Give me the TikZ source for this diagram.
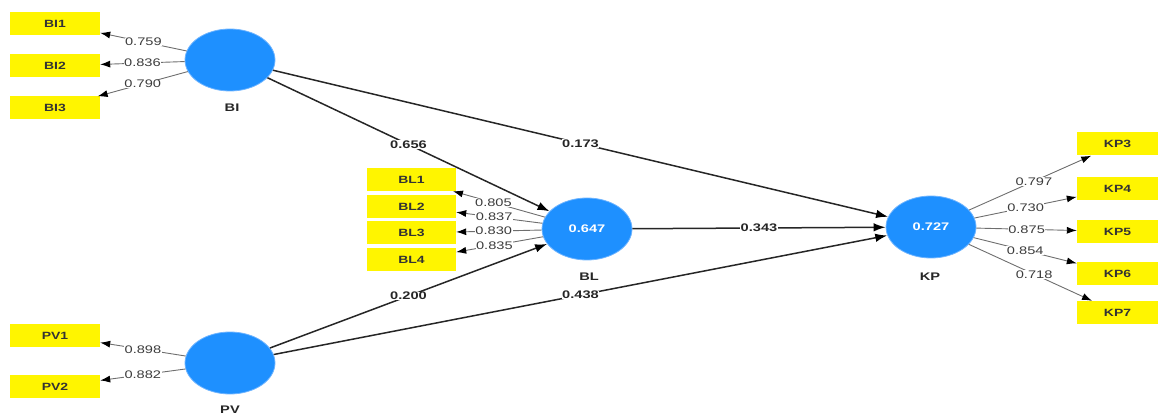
\documentclass[tikz,border=0pt]{standalone}
\usepackage{fontspec}
\setmainfont{Liberation Sans}[FakeStretch=1.33]
\usetikzlibrary{shapes.geometric,arrows.meta}
\definecolor{plsblue}{RGB}{30,144,255}
\definecolor{plsedge}{RGB}{110,180,255}
\definecolor{plsyellow}{RGB}{255,245,0}
\definecolor{loadgrey}{RGB}{110,110,110}
\definecolor{labgrey}{RGB}{60,60,60}
\tikzset{
  latent/.style={ellipse, fill=plsblue, draw=plsedge, line width=0.8pt,
    minimum width=90pt, minimum height=62pt, inner sep=0pt, text=white,
    font=\bfseries\fontsize{11}{12}\selectfont},
  latname/.style={font=\bfseries\fontsize{11}{12}\selectfont, text=black!85},
  indic/.style={rectangle, fill=plsyellow, minimum width=90pt, minimum height=23pt,
    inner sep=0pt, text=black!80, font=\bfseries\fontsize{10.5}{12}\selectfont},
  kpindic/.style={indic, minimum width=81pt},
  load/.style={draw=loadgrey, line width=0.9pt,
    -{Latex[length=10pt,width=7pt,color=black]}},
  loadlab/.style={fill=white, inner sep=0.5pt, text=labgrey,
    font=\fontsize{11}{12}\selectfont},
  struct/.style={draw=black!85, line width=1.5pt,
    -{Latex[length=12pt,width=8.5pt,color=black]}},
  structlab/.style={fill=white, inner sep=0.5pt, text=black!85,
    font=\bfseries\fontsize{11}{12}\selectfont},
}
\begin{document}
\begin{tikzpicture}[x=1pt, y=-1pt]
\useasboundingbox (0,0) rectangle (1158,419);

% latent variables
\node[latent] (BI) at (230,60) {};
\node[latent] (BL) at (587,229) {0.647};
\node[latent] (KP) at (931,227) {0.727};
\node[latent] (PV) at (230,363) {};

\node[latname] (BIname) at (232,108) {BI};
\node[latname] (BLname) at (589,277) {BL};
\node[latname] (KPname) at (930,277) {KP};
\node[latname] (PVname) at (230,410) {PV};

% indicators
\node[indic] (BI1) at (55,23.5) {BI1};
\node[indic] (BI2) at (55,66) {BI2};
\node[indic] (BI3) at (55,108) {BI3};

\node[indic, minimum width=89pt] (BL1) at (411.5,179.5) {BL1};
\node[indic, minimum width=89pt] (BL2) at (411.5,206.5) {BL2};
\node[indic, minimum width=89pt] (BL3) at (411.5,233) {BL3};
\node[indic, minimum width=89pt] (BL4) at (411.5,260) {BL4};

\node[indic] (PV1) at (55,335.5) {PV1};
\node[indic] (PV2) at (55,386.5) {PV2};

\node[kpindic] (KP3) at (1117.5,144) {KP3};
\node[kpindic] (KP4) at (1117.5,188.5) {KP4};
\node[kpindic] (KP5) at (1117.5,231.5) {KP5};
\node[kpindic] (KP6) at (1117.5,273.5) {KP6};
\node[kpindic] (KP7) at (1117.5,312.5) {KP7};

% outer loadings
\draw[load] (BI) -- node[loadlab] {0.759} (BI1);
\draw[load] (BI) -- node[loadlab] {0.836} (BI2);
\draw[load] (BI) -- node[loadlab] {0.790} (BI3);

\draw[load] (BL) -- node[loadlab, pos=0.56] {0.805} (BL1);
\draw[load] (BL) -- node[loadlab, pos=0.56] {0.837} (BL2);
\draw[load] (BL) -- node[loadlab, pos=0.56] {0.830} (BL3);
\draw[load] (BL) -- node[loadlab, pos=0.56] {0.835} (BL4);

\draw[load] (PV) -- node[loadlab] {0.898} (PV1);
\draw[load] (PV) -- node[loadlab] {0.882} (PV2);

\draw[load] (KP) -- node[loadlab, pos=0.53] {0.797} (KP3);
\draw[load] (KP) -- node[loadlab] {0.730} (KP4);
\draw[load] (KP) -- node[loadlab] {0.875} (KP5);
\draw[load] (KP) -- node[loadlab] {0.854} (KP6);
\draw[load] (KP) -- node[loadlab, pos=0.53] {0.718} (KP7);

% path coefficients
\draw[struct] (BI) -- node[structlab] {0.656} (BL);
\draw[struct] (BI) -- node[structlab] {0.173} (KP);
\draw[struct] (BL) -- node[structlab] {0.343} (KP);
\draw[struct] (PV) -- node[structlab] {0.200} (BL);
\draw[struct] (PV) -- node[structlab] {0.438} (KP);
\end{tikzpicture}
\end{document}
